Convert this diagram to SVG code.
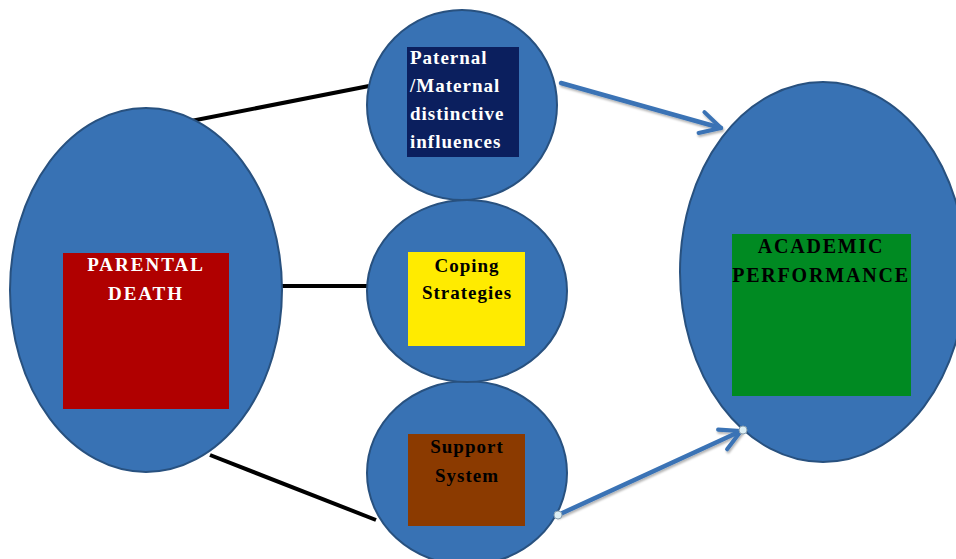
<svg xmlns="http://www.w3.org/2000/svg" width="956" height="559" viewBox="0 0 956 559">
<style>
.node{fill:#3872b4;stroke:#28517f;stroke-width:2}
.bl{stroke:#000;stroke-width:4;fill:none}
.ar{stroke:#3a73b5;stroke-width:4.5;fill:none;stroke-linecap:round}
.t{font-family:"Liberation Serif","Times New Roman",serif;font-weight:bold;font-size:19px;letter-spacing:1px}
.w{fill:#fff}
.k{fill:#000}
.cap{letter-spacing:2px}
.big{font-size:20px;letter-spacing:1.8px}
.dot{fill:#dbeef4;stroke:#8aa0b0;stroke-width:1}
</style>
<defs>
<marker id="ah" viewBox="0 0 10 10" refX="9" refY="5" markerWidth="6" markerHeight="6" markerUnits="strokeWidth" orient="auto">
<path d="M1.5,1 L9,5 L1.5,9" fill="none" stroke="#3a73b5" stroke-width="1.5" stroke-linecap="round" stroke-linejoin="round"/>
</marker>
<filter id="sh" x="-10%" y="-10%" width="120%" height="140%">
<feDropShadow dx="1" dy="2" stdDeviation="1" flood-color="#000" flood-opacity="0.3"/>
</filter>
</defs>
<g id="connectors">
<line class="bl" x1="191" y1="121" x2="369" y2="86"/>
<line class="bl" x1="282" y1="286" x2="368" y2="286"/>
<line class="bl" x1="210" y1="455" x2="376" y2="520"/>
<line class="ar" x1="561" y1="83" x2="721" y2="128" marker-end="url(#ah)" filter="url(#sh)"/>
<line class="ar" x1="569" y1="291" x2="675" y2="291" marker-end="url(#ah)" filter="url(#sh)"/>
<line class="ar" x1="558" y1="515" x2="741" y2="431" marker-end="url(#ah)" filter="url(#sh)"/>
</g>
<g id="parental-death">
<ellipse class="node" cx="146" cy="290" rx="136" ry="182"/>
<rect x="63" y="253" width="166" height="156" fill="#b00000"/>
<text class="t w cap" text-anchor="middle" x="146" y="271">PARENTAL</text>
<text class="t w cap" text-anchor="middle" x="146" y="300">DEATH</text>
</g>
<g id="academic-performance">
<ellipse class="node" cx="823" cy="272" rx="143" ry="190"/>
<rect x="732" y="234" width="179" height="162" fill="#008a22"/>
<text class="t k big" text-anchor="middle" x="821" y="253">ACADEMIC</text>
<text class="t k big" text-anchor="middle" x="821" y="282">PERFORMANCE</text>
</g>
<g id="support-system">
<ellipse class="node" cx="467" cy="473" rx="100" ry="92"/>
<rect x="408" y="434" width="117" height="92" fill="#8b3a00"/>
<text class="t k" text-anchor="middle" x="467" y="453">Support</text>
<text class="t k" text-anchor="middle" x="467" y="482">System</text>
</g>
<g id="coping-strategies">
<ellipse class="node" cx="467" cy="291" rx="100" ry="91"/>
<rect x="408" y="252" width="117" height="94" fill="#ffeb00"/>
<text class="t k" text-anchor="middle" x="467" y="272">Coping</text>
<text class="t k" text-anchor="middle" x="467" y="299">Strategies</text>
</g>
<g id="parental-influences">
<ellipse class="node" cx="462" cy="105" rx="95" ry="95"/>
<rect x="407" y="47" width="112" height="110" fill="#0b1f5e"/>
<text class="t w" x="410" y="64">Paternal</text>
<text class="t w" x="410" y="92">/Maternal</text>
<text class="t w" x="410" y="120">distinctive</text>
<text class="t w" x="410" y="148">influences</text>
</g>
<circle class="dot" cx="558" cy="515" r="4"/>
<circle class="dot" cx="743" cy="430" r="4"/>
</svg>
